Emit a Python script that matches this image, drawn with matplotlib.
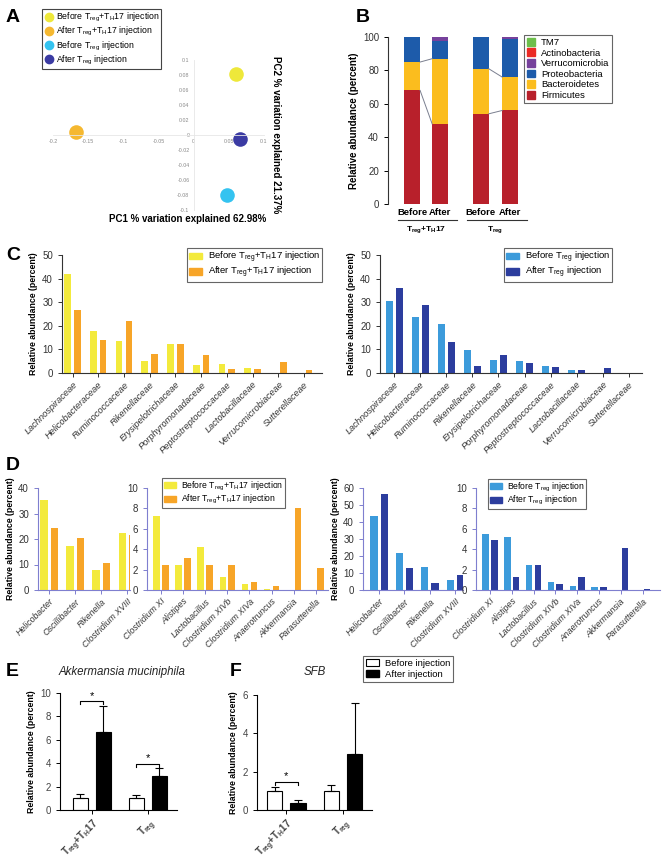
import matplotlib
matplotlib.use('Agg')
import matplotlib.pyplot as plt
import numpy as np
from matplotlib.patches import Patch
from matplotlib.lines import Line2D

plt.rcParams['font.family'] = ['Liberation Sans', 'DejaVu Sans']
plt.rcParams['mathtext.fontset'] = 'custom'
plt.rcParams['mathtext.rm'] = 'Liberation Sans'
plt.rcParams['mathtext.it'] = 'Liberation Sans:italic'
plt.rcParams['mathtext.bf'] = 'Liberation Sans:bold'
plt.rcParams['mathtext.default'] = 'regular'

# ---------------- DATA ----------------
TT_B = r'Before T$_{reg}$+T$_{H}$17 injection'
TT_A = r'After T$_{reg}$+T$_{H}$17 injection'
T_B = r'Before T$_{reg}$ injection'
T_A = r'After T$_{reg}$ injection'

# Panel A (PCA)
pca_labels = [TT_B, TT_A, T_B, T_A]
pca_pc1 = [0.060, -0.168, 0.047, 0.066]
pca_pc2 = [0.081, 0.004, -0.080, -0.005]
pca_xticks = [-0.2, -0.15, -0.1, -0.05, 0, 0.05, 0.1]
pca_yticks = [-0.1, -0.08, -0.06, -0.04, -0.02, 0, 0.02, 0.04, 0.06, 0.08, 0.1]

# Panel B (phyla, stacked)
b_bars = ['Before', 'After', 'Before', 'After']
b_groups = [r'T$_{\mathbf{reg}}$+T$_{\mathbf{H}}$17', r'T$_{\mathbf{reg}}$']
phyla = ['Firmicutes', 'Bacteroidetes', 'Proteobacteria', 'Verrucomicrobia', 'Actinobacteria', 'TM7']
firmicutes = [68, 48, 54, 56]
bacteroidetes = [17, 39, 27, 20]
proteobacteria = [15, 10.5, 19, 23]
verrucomicrobia = [0, 2.5, 0, 1]
actinobacteria = [0, 0, 0, 0]
tm7 = [0, 0, 0, 0]

# Panel C (families)
families = ['Lachnospiraceae', 'Helicobacteraceae', 'Ruminococcaceae', 'Rikenellaceae',
            'Erysipelotrichaceae', 'Porphyromonadaceae', 'Peptostreptococcaceae',
            'Lactobacillaceae', 'Verrucomicrobiaceae', 'Sutterellaceae']
fam_tt_before = [41.8, 18.0, 13.5, 4.9, 12.3, 3.5, 3.8, 2.2, 0, 0]
fam_tt_after = [26.9, 13.8, 22.1, 8.2, 12.4, 7.6, 1.5, 1.5, 4.5, 1.3]
fam_t_before = [30.3, 23.7, 20.8, 9.6, 5.5, 4.9, 3.0, 1.3, 0, 0]
fam_t_after = [35.9, 29.0, 13.0, 2.8, 7.7, 4.2, 2.5, 1.3, 2.1, 0.2]

# Panel D (genera)
genera_hi = ['Helicobacter', 'Oscillibacter', 'Rikenella', 'Clostridium XVIII']
genera_lo = ['Clostridium XI', 'Alistipes', 'Lactobacillus', 'Clostridium XIVb',
             'Clostridium XIVa', 'Anaerotruncus', 'Akkermansia', 'Parasutterella']
gen_hi_tt_before = [35.4, 17.3, 7.7, 22.3]
gen_hi_tt_after = [24.5, 20.2, 10.6, 21.4]
gen_lo_tt_before = [7.3, 2.5, 4.25, 1.3, 0.55, 0.1, 0, 0]
gen_lo_tt_after = [2.5, 3.15, 2.5, 2.5, 0.8, 0.4, 8.05, 2.15]
gen_hi_t_before = [43.7, 21.6, 13.4, 6.1]
gen_hi_t_after = [56.5, 12.8, 4.3, 9.05]
gen_lo_t_before = [5.5, 5.2, 2.5, 0.82, 0.4, 0.33, 0, 0]
gen_lo_t_after = [4.95, 1.28, 2.5, 0.56, 1.28, 0.3, 4.1, 0.13]

# Panels E, F
ef_groups = [r'T$_{\mathbf{reg}}$+T$_{\mathbf{H}}$17', r'T$_{\mathbf{reg}}$']
akk_before = [1.06, 1.06]
akk_before_err = [0.28, 0.23]
akk_after = [6.66, 2.91]
akk_after_err = [2.2, 0.66]
akk_sig = [9.3, 3.95]
sfb_before = [1.0, 0.99]
sfb_before_err = [0.22, 0.31]
sfb_after = [0.37, 2.92]
sfb_after_err = [0.13, 2.65]
sfb_sig = [1.46, None]

# ---------------- STYLE ----------------
YEL = '#F3EA3C'
ORA = '#F7A528'
LBL = '#3C9BDB'
DBL = '#2C3D9E'
YLAB = 6.3

W, H = 663, 859
fig = plt.figure(figsize=(W / 100, H / 100), dpi=100)


def rect(l, r, t, b):
    return [l / W, 1 - b / H, (r - l) / W, (b - t) / H]


def fig_legend(ax, handles, labels, l, t, fs=7.0, **kw):
    opts = dict(loc='upper left', bbox_to_anchor=(l / W, 1 - t / H),
                bbox_transform=fig.transFigure, borderaxespad=0, fontsize=fs,
                fancybox=False, edgecolor='#666666', framealpha=1,
                handlelength=1.4, handletextpad=0.6, borderpad=0.18, labelspacing=0.05)
    opts.update(kw)
    leg = ax.legend(handles, labels, **opts)
    leg.get_frame().set_linewidth(0.8)
    return leg


def panel_letter(x, y, s):
    fig.text(x / W, 1 - y / H, s, fontsize=14, fontweight='bold', ha='left', va='center')


def style_bar_axes(ax, spine_color='#333333'):
    for s in ['top', 'right']:
        ax.spines[s].set_visible(False)
    for s in ['left', 'bottom']:
        ax.spines[s].set_color(spine_color)
        ax.spines[s].set_linewidth(0.8)
    ax.tick_params(axis='both', colors=spine_color, labelcolor='#333333', labelsize=7, length=3, width=0.7)


# ---------------- PANEL A ----------------
axA = fig.add_axes(rect(53, 264, 60, 210))
pca_cols = ['#EEE83A', '#F5B830', '#34C3F0', '#3B3BA3']
for lab, x, y, c in zip(pca_labels, pca_pc1, pca_pc2, pca_cols):
    axA.plot(x, y, 'o', color=c, markersize=10.5, label=lab, markeredgewidth=0)
axA.set_xlim(-0.2, 0.1)
axA.set_ylim(-0.1, 0.1)
axA.spines['left'].set_position(('data', 0))
axA.spines['bottom'].set_position(('data', 0))
for s in ['top', 'right']:
    axA.spines[s].set_visible(False)
for s in ['left', 'bottom']:
    axA.spines[s].set_color('#e6e6e6')
    axA.spines[s].set_linewidth(0.6)
axA.set_xticks(pca_xticks)
axA.set_xticklabels([f'{v:g}' for v in pca_xticks])
axA.set_yticks(pca_yticks)
axA.set_yticklabels([f'{v:g}' for v in pca_yticks])
axA.tick_params(length=0, labelsize=3.8, labelcolor='#888888', pad=3)
axA.patch.set_alpha(0)
fig.text(188 / W, 1 - 219 / H, 'PC1 % variation explained 62.98%', fontsize=7.0, fontweight='bold',
         ha='center', va='center')
fig.text(276 / W, 1 - 135 / H, 'PC2 % variation explained 21.37%', fontsize=7.0, fontweight='bold',
         ha='center', va='center', rotation=270)
hA = [Line2D([], [], marker='o', ls='', color=c, markersize=6) for c in pca_cols]
fig_legend(axA, hA, pca_labels, 42, 9, fs=6.3, handletextpad=0.3, handlelength=1.0,
           labelspacing=0.12, borderpad=0.25, edgecolor='#444444')
panel_letter(6, 17, 'A')

# ---------------- PANEL B ----------------
axB = fig.add_axes(rect(388, 527, 37, 204))
xb = np.array([0, 1, 2.45, 3.5])
wb = 0.57
stack = [firmicutes, bacteroidetes, proteobacteria, verrucomicrobia, actinobacteria, tm7]
pcol = ['#B8202B', '#FBBD1E', '#1D5BAA', '#76419C', '#EB2A25', '#6DBE4B']
bottom = np.zeros(4)
cum_tops = []
for vals, c, name in zip(stack, pcol, phyla):
    axB.bar(xb, vals, wb, bottom=bottom, color=c, label=name, linewidth=0)
    bottom = bottom + np.array(vals)
    cum_tops.append(bottom.copy())
for level in cum_tops[:2]:
    for i0, i1 in [(0, 1), (2, 3)]:
        axB.plot([xb[i0] + wb / 2, xb[i1] - wb / 2], [level[i0], level[i1]], color='#7a7f8f', lw=0.7)
axB.set_xlim(-0.86, 4.1)
axB.set_ylim(0, 100)
for s in ['top', 'right', 'bottom']:
    axB.spines[s].set_visible(False)
axB.spines['left'].set_color('#333333')
axB.spines['left'].set_linewidth(0.8)
axB.set_yticks([0, 20, 40, 60, 80, 100])
axB.tick_params(axis='y', labelsize=7, length=3, width=0.7, labelcolor='#333333')
axB.set_xticks(xb)
axB.set_xticklabels(b_bars, fontsize=6.8, fontweight='bold')
axB.tick_params(axis='x', length=0, pad=3)
axB.set_ylabel('Relative abundance (percent)', fontsize=7.0, fontweight='bold', labelpad=3)
for (i0, i1), g in zip([(0, 1), (2, 3)], b_groups):
    axB.plot([xb[i0] - 0.5, xb[i1] + 0.6], [-9.6, -9.6], color='#333333', lw=0.8, clip_on=False)
    axB.text((xb[i0] + xb[i1]) / 2, -15.5, g, fontsize=6.0, fontweight='bold', ha='center', va='center')
hB = [Patch(color=c) for c in pcol[::-1]]
fig_legend(axB, hB, phyla[::-1], 524, 35, fs=6.8, handlelength=0.9, handleheight=0.9,
           labelspacing=0.15, borderpad=0.3)
panel_letter(356, 17, 'B')


# ---------------- PANEL C ----------------
def paired_bars(ax, cats, v1, v2, c1, c2, off, w, xlim, ylim, yticks, spine='#333333', fs=6.3):
    x = np.arange(len(cats))
    ax.bar(x - off, v1, w, color=c1, linewidth=0)
    ax.bar(x + off, v2, w, color=c2, linewidth=0)
    ax.set_xlim(*xlim)
    ax.set_ylim(*ylim)
    ax.set_yticks(yticks)
    ax.set_xticks(x)
    ax.set_xticklabels(cats, rotation=45, ha='right', rotation_mode='anchor', fontstyle='italic',
                       fontsize=fs, color='#555555')
    style_bar_axes(ax, spine)
    ax.tick_params(axis='x', labelsize=fs, pad=2)


axC1 = fig.add_axes(rect(62, 322, 255, 373))
paired_bars(axC1, families, fam_tt_before, fam_tt_after, YEL, ORA, 0.19, 0.26,
            (-0.41, 9.7), (0, 50), [0, 10, 20, 30, 40, 50], fs=6.7)
axC1.set_ylabel('Relative abundance (percent)', fontsize=YLAB, fontweight='bold', labelpad=3)
fig_legend(axC1, [Patch(color=YEL), Patch(color=ORA)], [TT_B, TT_A], 187, 248, fs=6.8)

axC2 = fig.add_axes(rect(380, 642, 255, 373))
paired_bars(axC2, families, fam_t_before, fam_t_after, LBL, DBL, 0.19, 0.27,
            (-0.54, 9.5), (0, 50), [0, 10, 20, 30, 40, 50], fs=6.7)
axC2.set_ylabel('Relative abundance (percent)', fontsize=YLAB, fontweight='bold', labelpad=3)
fig_legend(axC2, [Patch(color=LBL), Patch(color=DBL)], [T_B, T_A], 504, 248, fs=6.8)
panel_letter(6, 255, 'C')

# ---------------- PANEL D ----------------
DSP = '#7f7fcf'
axD1 = fig.add_axes(rect(38, 130, 488, 590))
paired_bars(axD1, genera_hi, gen_hi_tt_before, gen_hi_tt_after, YEL, ORA, 0.2, 0.28,
            (-0.43, 3.1), (0, 40), [0, 10, 20, 30, 40], spine=DSP)
axD1.set_ylabel('Relative abundance (percent)', fontsize=YLAB, fontweight='bold', labelpad=2)
axD2 = fig.add_axes(rect(147, 328, 488, 590))
paired_bars(axD2, genera_lo, gen_lo_tt_before, gen_lo_tt_after, YEL, ORA, 0.2, 0.3,
            (-0.63, 7.55), (0, 10), [0, 2, 4, 6, 8, 10], spine=DSP)
fig_legend(axD2, [Patch(color=YEL), Patch(color=ORA)], [TT_B, TT_A], 162, 478, fs=6.2)

axD3 = fig.add_axes(rect(363, 463, 488, 590))
paired_bars(axD3, genera_hi, gen_hi_t_before, gen_hi_t_after, LBL, DBL, 0.2, 0.28,
            (-0.63, 3.3), (0, 60), [0, 10, 20, 30, 40, 50, 60], spine=DSP)
axD3.set_ylabel('Relative abundance (percent)', fontsize=YLAB, fontweight='bold', labelpad=2)
axD4 = fig.add_axes(rect(476, 660, 488, 590))
paired_bars(axD4, genera_lo, gen_lo_t_before, gen_lo_t_after, LBL, DBL, 0.2, 0.3,
            (-0.64, 7.8), (0, 10), [0, 2, 4, 6, 8, 10], spine=DSP)
fig_legend(axD4, [Patch(color=LBL), Patch(color=DBL)], [T_B, T_A], 488, 479, fs=6.2)
panel_letter(6, 465, 'D')


# ---------------- PANELS E, F ----------------
def ef_panel(ax, before, b_err, after, a_err, sig, ylim, yticks, xlim):
    x = np.arange(len(ef_groups))
    off, w = 0.205, 0.27
    ax.bar(x - off, before, w, color='white', edgecolor='black', linewidth=0.8)
    ax.bar(x + off, after, w, color='black', edgecolor='black', linewidth=0.8)
    ax.errorbar(x - off, before, yerr=[np.zeros(len(x)), b_err], fmt='none', ecolor='black',
                elinewidth=0.8, capsize=3, capthick=0.8)
    ax.errorbar(x + off, after, yerr=[np.zeros(len(x)), a_err], fmt='none', ecolor='black',
                elinewidth=0.8, capsize=3, capthick=0.8)
    span = ylim[1] - ylim[0]
    for xi, s in zip(x, sig):
        if s is None:
            continue
        d = span * 0.025
        ax.plot([xi - off, xi - off, xi + off, xi + off], [s - d, s, s, s - d], color='black', lw=0.8)
        ax.text(xi, s + span * 0.005, '*', ha='center', va='bottom', fontsize=8)
    ax.set_xlim(*xlim)
    ax.set_ylim(*ylim)
    ax.set_yticks(yticks)
    ax.set_xticks(x)
    ax.set_xticklabels(ef_groups, rotation=45, ha='right', rotation_mode='anchor', fontsize=5.2,
                       fontweight='bold')
    for s in ['top', 'right']:
        ax.spines[s].set_visible(False)
    for s in ['left', 'bottom']:
        ax.spines[s].set_linewidth(0.8)
    ax.tick_params(axis='both', labelsize=7, length=3, width=0.7, labelcolor='#444444')
    ax.tick_params(axis='x', pad=1.5)
    ax.set_ylabel('Relative abundance (percent)', fontsize=YLAB, fontweight='bold', labelpad=3)


axE = fig.add_axes(rect(60, 177, 693, 810))
ef_panel(axE, akk_before, akk_before_err, akk_after, akk_after_err, akk_sig, (0, 10),
         [0, 2, 4, 6, 8, 10], (-0.57, 1.52))
fig.text(122 / W, 1 - 672 / H, 'Akkermansia muciniphila', fontsize=8.3, fontstyle='italic',
         ha='center', va='center', color='#222222')
panel_letter(6, 672, 'E')

axF = fig.add_axes(rect(257, 372, 695, 810))
ef_panel(axF, sfb_before, sfb_before_err, sfb_after, sfb_after_err, sfb_sig, (0, 6),
         [0, 2, 4, 6], (-0.52, 1.51))
fig.text(315 / W, 1 - 672 / H, 'SFB', fontsize=8.3, fontstyle='italic', ha='center', va='center',
         color='#222222')
panel_letter(230, 672, 'F')
fig_legend(axF, [Patch(facecolor='white', edgecolor='black', linewidth=0.8), Patch(color='black')],
           ['Before injection', 'After injection'], 363, 656, fs=6.8, labelspacing=0.2, borderpad=0.3)

fig.savefig('out.png', dpi=100)
